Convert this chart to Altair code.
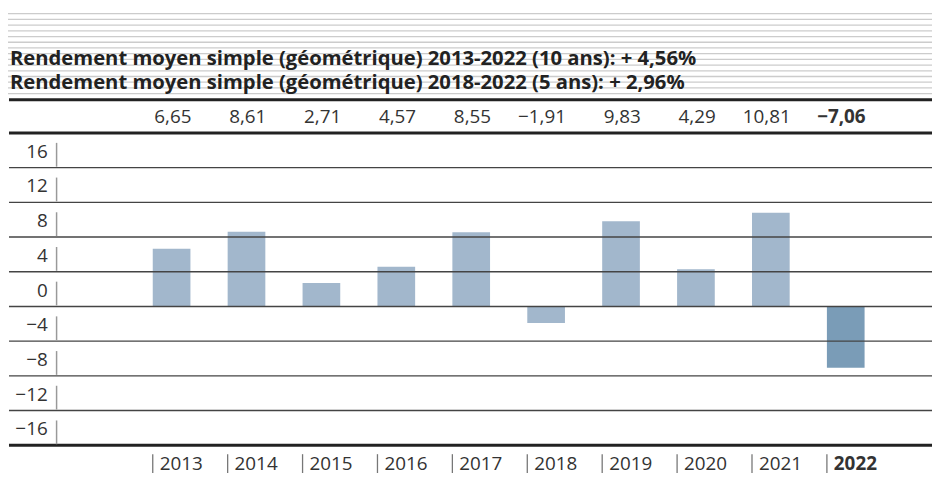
import altair as alt
import pandas as pd

# ---- data ----
years = ["2013", "2014", "2015", "2016", "2017", "2018", "2019", "2020", "2021", "2022"]
returns = [6.65, 8.61, 2.71, 4.57, 8.55, -1.91, 9.83, 4.29, 10.81, -7.06]
return_labels = ["6,65", "8,61", "2,71", "4,57", "8,55", "\u22121,91", "9,83", "4,29", "10,81", "\u22127,06"]
kinds = ["normal"] * 9 + ["latest"]

y_ticks = [16, 12, 8, 4, 0, -4, -8, -12, -16]
y_tick_labels = ["16", "12", "8", "4", "0", "\u22124", "\u22128", "\u221212", "\u221216"]
grid_thin = [16, 12, 8, 4, 0, -4, -8, -12]
grid_thick = [20, -16]

titles = [
    "Rendement moyen simple (g\u00e9om\u00e9trique) 2013-2022 (10 ans): + 4,56%",
    "Rendement moyen simple (g\u00e9om\u00e9trique) 2018-2022 (5 ans): + 2,96%",
]
stripe_index = list(range(15))

df = pd.DataFrame({"year": years, "value": returns, "label": return_labels, "kind": kinds})

# ---- layout ----
W, H = 932, 315
FONT = "Open Sans"
TXT = "#333333"

yscale = alt.Scale(domain=[-16, 20], nice=False, zero=False)
xscale = alt.Scale(domain=years, range=[146, 864], paddingInner=0.497, paddingOuter=0)

bars = alt.Chart(df).mark_bar().encode(
    x=alt.X("year:N", scale=xscale, axis=None),
    y=alt.Y("value:Q", scale=yscale, axis=None),
    y2=alt.datum(0),
    color=alt.Color("kind:N", scale=alt.Scale(domain=["normal", "latest"],
                                              range=["#A2B7CC", "#7A9CB7"]), legend=None),
)

thin = alt.Chart(pd.DataFrame({"v": grid_thin})).mark_rule(color="#444444", strokeWidth=1.4).encode(
    y=alt.Y("v:Q", scale=yscale, axis=None), x=alt.value(1), x2=alt.value(W)
)
thick = alt.Chart(pd.DataFrame({"v": grid_thick})).mark_rule(color="#222222", strokeWidth=3).encode(
    y=alt.Y("v:Q", scale=yscale, axis=None), x=alt.value(1), x2=alt.value(W)
)
top_thick = alt.Chart(pd.DataFrame({"v": [0]})).mark_rule(color="#222222", strokeWidth=3).encode(
    y=alt.value(-33.5), x=alt.value(1), x2=alt.value(W)
)

stripes = alt.Chart(pd.DataFrame({"i": stripe_index})).transform_calculate(
    py="-120.3 + datum.i * 5.76"
).mark_rule(color="#cccccc", strokeWidth=1.3).encode(
    y=alt.Y("py:Q", scale=None), x=alt.value(-3), x2=alt.value(W)
)

ylab = alt.Chart(pd.DataFrame({"v": y_ticks, "t": y_tick_labels})).mark_text(
    align="right", baseline="middle", font=FONT, fontSize=19, color=TXT, dy=-16
).encode(y=alt.Y("v:Q", scale=yscale, axis=None), x=alt.value(40), text="t:N")

yticks = alt.Chart(pd.DataFrame({"v": y_ticks})).mark_rule(
    color="#999999", strokeWidth=1.5, yOffset=-1, y2Offset=-25
).encode(y=alt.Y("v:Q", scale=yscale, axis=None), y2=alt.Y2("v:Q"), x=alt.value(49))

def value_text(kind, weight):
    return alt.Chart(df).transform_filter(alt.datum.kind == kind).mark_text(
        align="right", baseline="middle", font=FONT, fontSize=19, color=TXT, fontWeight=weight, dx=1
    ).encode(x=alt.X("year:N", scale=xscale, axis=None, bandPosition=1), y=alt.value(-16), text="label:N")

def year_text(kind, weight):
    return alt.Chart(df).transform_filter(alt.datum.kind == kind).mark_text(
        align="left", baseline="middle", font=FONT, fontSize=19, color=TXT, fontWeight=weight, dx=7
    ).encode(x=alt.X("year:N", scale=xscale, axis=None, bandPosition=0), y=alt.value(334), text="year:N")

year_ticks = alt.Chart(df).mark_rule(color="#777777", strokeWidth=1.3).encode(
    x=alt.X("year:N", scale=xscale, axis=None, bandPosition=0), y=alt.value(324), y2=alt.value(343)
)

title_layers = []
for t, yy in zip(titles, [-69, -44]):
    title_layers.append(
        alt.Chart(pd.DataFrame({"t": [t]})).mark_text(
            align="left", baseline="alphabetic", font=FONT, fontSize=20.4, fontWeight="bold", color="#222222"
        ).encode(x=alt.value(2), y=alt.value(yy), text="t:N")
    )

chart = alt.layer(
    stripes, *title_layers, top_thick, bars, thin, thick, yticks, ylab,
    value_text("normal", "normal"), value_text("latest", "bold"),
    year_ticks, year_text("normal", "normal"), year_text("latest", "bold"),
).properties(
    width=W, height=H,
    autosize=alt.AutoSizeParams(type="none"),
    padding={"left": 0, "top": 124, "right": 0, "bottom": 32},
).configure_view(stroke=None)

chart.save("out.html", embed_options={"renderer": "svg", "actions": False})
